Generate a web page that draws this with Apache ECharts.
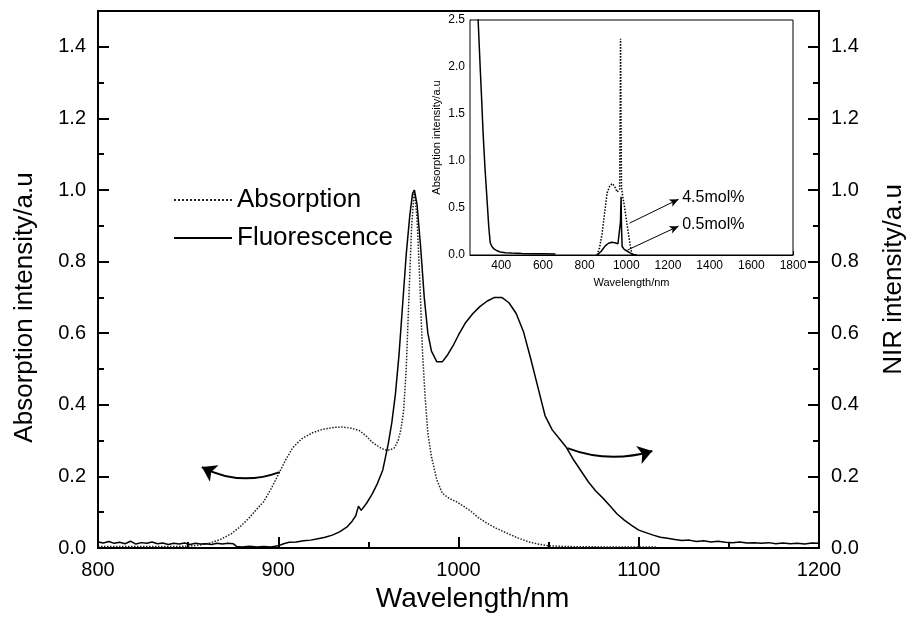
<!DOCTYPE html>
<html>
<head>
<meta charset="utf-8">
<script src="https://cdn.jsdelivr.net/npm/echarts@6/dist/echarts.min.js"></script>
<style>html,body{margin:0;padding:0;background:#fff}#c{width:915px;height:624px}</style>
</head>
<body>
<div id="c"></div>
<script>
// Main chart: absorption (dotted) and fluorescence (solid)
const absX = [800, 820, 840, 850, 856, 862, 868, 874, 879, 884, 888, 892, 896, 900, 904, 908, 913, 919, 925, 931, 936, 941, 945, 949, 952, 956, 959, 962, 964.5, 966.5, 968, 969.5, 971, 972.5, 974, 975.5, 977, 978.5, 980, 981.5, 983, 985, 988, 991, 995, 999, 1003, 1007, 1011, 1015.5, 1021, 1026.6, 1033, 1039, 1045, 1050, 1060, 1080, 1110];
const absY = [0.004, 0.004, 0.004, 0.005, 0.008, 0.014, 0.024, 0.040, 0.060, 0.085, 0.108, 0.130, 0.165, 0.205, 0.245, 0.280, 0.305, 0.322, 0.332, 0.337, 0.338, 0.334, 0.328, 0.312, 0.296, 0.282, 0.274, 0.274, 0.280, 0.300, 0.330, 0.380, 0.500, 0.700, 0.900, 1.0, 0.92, 0.75, 0.55, 0.42, 0.32, 0.255, 0.19, 0.153, 0.138, 0.129, 0.116, 0.102, 0.085, 0.070, 0.055, 0.042, 0.028, 0.017, 0.010, 0.006, 0.004, 0.003, 0.003];

const fluX = [800, 803, 806, 809, 812, 815, 818, 821, 824, 827, 830, 833, 836, 839, 842, 845, 848, 851, 854, 857, 860, 863, 866, 869, 872, 875, 877, 880, 884, 888, 892, 896, 900, 903, 906, 910, 914, 918, 922, 926, 930, 934, 938, 941, 943, 944.5, 946, 949, 952, 955, 958, 961, 963, 965, 967, 969, 971, 973, 974.5, 975.5, 977, 979, 981, 983, 985, 988, 991, 994, 997, 1000, 1004, 1008, 1012, 1016, 1020, 1024, 1028, 1032, 1036, 1040, 1044, 1048, 1052, 1056, 1060, 1064, 1068, 1072, 1076, 1080, 1084, 1088, 1092, 1096, 1100, 1104, 1108, 1112, 1116, 1120, 1124, 1128, 1132, 1136, 1140, 1144, 1148, 1152, 1156, 1160, 1164, 1168, 1172, 1176, 1180, 1184, 1188, 1192, 1196, 1200];
const fluY = [0.017, 0.014, 0.018, 0.013, 0.016, 0.012, 0.019, 0.011, 0.015, 0.013, 0.017, 0.012, 0.014, 0.010, 0.013, 0.011, 0.014, 0.010, 0.013, 0.011, 0.012, 0.010, 0.013, 0.011, 0.013, 0.012, 0.004, 0.003, 0.005, 0.003, 0.004, 0.003, 0.006, 0.012, 0.016, 0.017, 0.020, 0.022, 0.026, 0.030, 0.036, 0.045, 0.058, 0.075, 0.090, 0.117, 0.105, 0.125, 0.150, 0.180, 0.218, 0.290, 0.350, 0.430, 0.540, 0.680, 0.820, 0.930, 0.990, 1.0, 0.96, 0.84, 0.70, 0.60, 0.55, 0.52, 0.52, 0.54, 0.565, 0.595, 0.63, 0.655, 0.675, 0.69, 0.70, 0.70, 0.685, 0.655, 0.605, 0.53, 0.45, 0.37, 0.33, 0.305, 0.28, 0.245, 0.215, 0.185, 0.160, 0.140, 0.118, 0.095, 0.078, 0.063, 0.050, 0.043, 0.036, 0.030, 0.027, 0.024, 0.021, 0.022, 0.018, 0.020, 0.017, 0.019, 0.016, 0.015, 0.017, 0.014, 0.015, 0.013, 0.015, 0.012, 0.014, 0.012, 0.013, 0.011, 0.014, 0.013];

// Curved arrows (start, end) in data units of the main chart
const arrowLeft = [[900.8, 0.212], [857.6, 0.226]];
const arrowRight = [[1060.4, 0.279], [1107.5, 0.271]];

// Inset: UV part (solid)
const insUvX = [285, 290, 299, 306, 313, 322, 332, 340, 347, 355, 365, 380, 395, 420, 450, 500, 550, 600, 660];
const insUvY = [2.7, 2.45, 1.99, 1.65, 1.29, 0.92, 0.58, 0.30, 0.13, 0.09, 0.065, 0.045, 0.032, 0.025, 0.02, 0.015, 0.013, 0.012, 0.01];
// Inset: 0.5mol% (solid)
const ins05X = [860, 880, 900, 915, 930, 945, 960, 968, 972, 975, 977, 980, 990, 1005, 1020, 1035, 1050];
const ins05Y = [0, 0.04, 0.10, 0.125, 0.135, 0.13, 0.12, 0.14, 0.35, 0.62, 0.30, 0.09, 0.06, 0.04, 0.02, 0.005, 0];
// Inset: 4.5mol% (dotted)
const ins45X = [860, 872, 884, 896, 908, 920, 932, 944, 956, 964, 968, 970.5, 972.5, 974.5, 977, 983, 991, 1000, 1010, 1020, 1028];
const ins45Y = [0, 0.08, 0.23, 0.45, 0.66, 0.73, 0.76, 0.73, 0.67, 0.66, 0.70, 1.5, 2.3, 1.5, 0.72, 0.62, 0.52, 0.38, 0.23, 0.09, 0];

const insXLabels = [400, 600, 800, 1000, 1200, 1400, 1600, 1800];

const zip = (xs, ys) => xs.map((x, i) => [x, ys[i]]);
const F = '"Liberation Sans", Arial, sans-serif';
const black = '#000';

const chart = echarts.init(document.getElementById('c'), null, {renderer: 'canvas'});

const mainYAxis = (pos, name, gap, pad) => ({
  type: 'value', gridIndex: 0, position: pos, min: 0, max: 1.5, interval: 0.2,
  name: name, nameLocation: 'middle', nameGap: gap, nameRotate: 90,
  nameTextStyle: {fontFamily: F, fontSize: 26, color: black, padding: pad},
  axisLine: {show: true, lineStyle: {color: black, width: 2}},
  axisTick: {show: true, inside: true, length: 11, lineStyle: {color: black, width: 2}},
  minorTick: {show: true, splitNumber: 2, length: 6, lineStyle: {color: black, width: 2}},
  axisLabel: {fontFamily: F, fontSize: 20, color: black, margin: 12, showMaxLabel: false,
    formatter: v => v.toFixed(1)},
  splitLine: {show: false}
});

const arrowSeries = (name, pts, curv) => ({
  name: name, type: 'lines', coordinateSystem: 'cartesian2d', xAxisIndex: 0, yAxisIndex: 0,
  silent: true, z: 3, symbol: ['none', 'arrow'], symbolSize: 14,
  lineStyle: {color: black, width: 2, opacity: 1, curveness: curv},
  data: [{coords: pts}]
});

const option = {
  animation: false,
  backgroundColor: '#fff',
  grid: [
    {left: 98, right: 93, top: 11, bottom: 76, show: true, borderColor: black, borderWidth: 2, backgroundColor: 'transparent'},
    {left: 470, right: 122, top: 20, bottom: 369, show: true, borderColor: black, borderWidth: 1, backgroundColor: '#fff', z: 5}
  ],
  legend: {
    data: ['Absorption', 'Fluorescence'],
    orient: 'vertical', left: 168, top: 180, itemWidth: 58, itemHeight: 14, itemGap: 8,
    textStyle: {fontFamily: F, fontSize: 26, color: black, lineHeight: 30},
    itemStyle: {opacity: 0}
  },
  xAxis: [
    {type: 'value', gridIndex: 0, min: 800, max: 1200, interval: 100,
      name: 'Wavelength/nm', nameLocation: 'middle', nameGap: 37,
      nameTextStyle: {fontFamily: F, fontSize: 28, color: black, padding: [0, 0, 0, 28]},
      axisLine: {show: true, lineStyle: {color: black, width: 2}},
      axisTick: {show: true, inside: true, length: 11, lineStyle: {color: black, width: 2}},
      minorTick: {show: true, splitNumber: 2, length: 6, lineStyle: {color: black, width: 2}},
      axisLabel: {fontFamily: F, fontSize: 20, color: black, margin: 12, formatter: v => String(v)},
      splitLine: {show: false}},
    {type: 'value', gridIndex: 1, min: 250, max: 1800, interval: 50,
      name: 'Wavelength/nm', nameLocation: 'middle', nameGap: 22,
      nameTextStyle: {fontFamily: F, fontSize: 11, color: black},
      axisLine: {show: true, onZero: false, lineStyle: {color: black, width: 1}},
      axisTick: {show: true, inside: true, length: 4, customValues: insXLabels, lineStyle: {color: black}},
      axisLabel: {fontFamily: F, fontSize: 12, color: black, margin: 5, customValues: insXLabels, formatter: v => String(v)},
      splitLine: {show: false}}
  ],
  yAxis: [
    mainYAxis('left', 'Absorption intensity/a.u', 60, [0, 56, 0, 0]),
    mainYAxis('right', 'NIR intensity/a.u', 62, 0),
    {type: 'value', gridIndex: 1, min: 0, max: 2.5, interval: 0.5,
      name: 'Absorption intensity/a.u', nameLocation: 'middle', nameGap: 28,
      nameTextStyle: {fontFamily: F, fontSize: 11, color: black},
      axisLine: {show: true, lineStyle: {color: black, width: 1}},
      axisTick: {show: true, inside: true, length: 4, lineStyle: {color: black}},
      minorTick: {show: true, splitNumber: 2, length: 2, lineStyle: {color: black}},
      axisLabel: {fontFamily: F, fontSize: 12, color: black, margin: 5, formatter: v => v.toFixed(1)},
      splitLine: {show: false}}
  ],
  series: [
    {name: 'Absorption', type: 'line', xAxisIndex: 0, yAxisIndex: 0, showSymbol: false, symbol: 'none',
      data: zip(absX, absY), lineStyle: {color: '#222', width: 1.5, type: 'dotted'}, itemStyle: {color: '#222'}, z: 2},
    {name: 'Fluorescence', type: 'line', xAxisIndex: 0, yAxisIndex: 1, showSymbol: false, symbol: 'none',
      data: zip(fluX, fluY), lineStyle: {color: black, width: 1.5, type: 'solid'}, itemStyle: {color: black}, z: 2},
    arrowSeries('arrowAbs', arrowLeft, 0.22),
    arrowSeries('arrowFlu', arrowRight, -0.17),
    {name: 'UV', type: 'line', xAxisIndex: 1, yAxisIndex: 2, showSymbol: false, symbol: 'none', z: 6,
      data: zip(insUvX, insUvY), lineStyle: {color: black, width: 1.5}},
    {name: '4.5mol%', type: 'line', xAxisIndex: 1, yAxisIndex: 2, showSymbol: false, symbol: 'none', z: 6,
      data: zip(ins45X, ins45Y), lineStyle: {color: black, width: 1.5, type: 'dotted'},
      markLine: {
        silent: true, symbol: ['none', 'arrow'], symbolSize: [6, 9],
        lineStyle: {color: black, width: 1, type: 'solid'},
        label: {show: true, position: 'end', distance: 4, fontFamily: F, fontSize: 16, color: black, formatter: '{b}'},
        data: [[{name: '4.5mol%', coord: [1015.7, 0.339]}, {coord: [1251, 0.593]}]]
      }},
    {name: '0.5mol%', type: 'line', xAxisIndex: 1, yAxisIndex: 2, showSymbol: false, symbol: 'none', z: 6,
      data: zip(ins05X, ins05Y), lineStyle: {color: black, width: 1.5},
      markLine: {
        silent: true, symbol: ['none', 'arrow'], symbolSize: [6, 9],
        lineStyle: {color: black, width: 1, type: 'solid'},
        label: {show: true, position: 'end', distance: 4, fontFamily: F, fontSize: 16, color: black, formatter: '{b}'},
        data: [[{name: '0.5mol%', coord: [1006, 0.053]}, {coord: [1251, 0.307]}]]
      }}
  ]
};
chart.setOption(option);
</script>
</body>
</html>
